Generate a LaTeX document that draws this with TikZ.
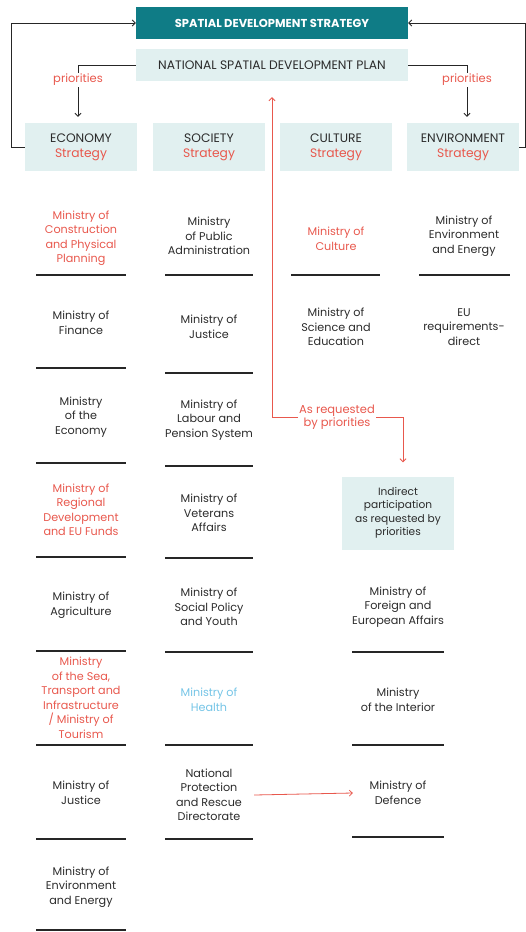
\documentclass[tikz,border=0pt]{standalone}
\usepackage{fontspec}
\setmainfont{Poppins}
\usetikzlibrary{arrows.meta, positioning}
\definecolor{sdteal}{HTML}{0F7C86}
\definecolor{sdlight}{HTML}{E1F0F0}
\definecolor{sdred}{HTML}{E8584D}
\definecolor{sdblue}{HTML}{74C4E6}
\definecolor{sdtext}{HTML}{2B2B2B}
\tikzset{
  mini/.style={align=center, inner sep=0pt, minimum width=90pt, text=sdtext, font=\fontsize{11.2}{14.5}\selectfont},
  strat/.style={fill=sdlight, minimum width=112pt, minimum height=48pt, align=center, text=sdtext, font=\fontsize{12.3}{15}\selectfont},
  lbl/.style={text=sdred, inner sep=1pt, align=center, font=\fontsize{11.5}{13}\selectfont},
  sep/.style={line width=1.1pt, black!85},
  barb/.style={-{Straight Barb[length=3pt,width=6pt]}, line width=0.8pt, black!85},
  redarr/.style={-{Straight Barb[length=3pt,width=6pt]}, line width=0.8pt, sdred},
}
\begin{document}
\begin{tikzpicture}[x=1pt, y=-1pt]
\useasboundingbox (0,0) rectangle (526,932);
% top boxes
\node[fill=sdteal, text=white, minimum width=272pt, minimum height=32pt, font=\bfseries\fontsize{11.5}{12}\selectfont] (sds) at (272,23) {SPATIAL DEVELOPMENT STRATEGY};
\node[fill=sdlight, text=sdtext, minimum width=272pt, minimum height=32pt, font=\fontsize{12.3}{13}\selectfont] (nsdp) at (272,65) {NATIONAL SPATIAL DEVELOPMENT PLAN};
% strategies
\node[strat] (eco) at (81,147) {ECONOMY\\\textcolor{sdred}{Strategy}};
\node[strat] (soc) at (209,147) {SOCIETY\\\textcolor{sdred}{Strategy}};
\node[strat] (cul) at (336,147) {CULTURE\\\textcolor{sdred}{Strategy}};
\node[strat] (env) at (463,147) {ENVIRONMENT\\\textcolor{sdred}{Strategy}};
\draw[barb] (eco.west) -- ++(-13,0) |- (sds.west);
\draw[barb] (env.east) -- ++(6,0) |- (sds.east);
\node[lbl] (prl) at (78,80) {priorities};
\node[lbl] (prr) at (467,80) {priorities};
\draw[line width=0.8pt, black!85] (nsdp.west) -| (prl.north);
\draw[line width=0.8pt, black!85] (nsdp.east) -| (prr.north);
\draw[barb, shorten >=6pt] (prl.south) -- (prl.south |- eco.north);
\draw[barb, shorten >=6pt] (prr.south) -- (prr.south |- env.north);
% economy
\node[mini, text=sdred] (eco1) at (81,238) {Ministry of\\Construction\\and Physical\\Planning};
\node[mini] (eco2) at (81,323) {Ministry of\\Finance};
\node[mini] (eco3) at (81,417) {Ministry\\of the\\Economy};
\node[mini, text=sdred] (eco4) at (81,510) {Ministry of\\Regional\\Development\\and EU Funds};
\node[mini] (eco5) at (81,605) {Ministry of\\Agriculture};
\node[mini, text=sdred] (eco6) at (81,698) {Ministry\\of the Sea,\\Transport and\\Infrastructure\\/ Ministry of\\Tourism};
\node[mini] (eco7) at (81,793) {Ministry of\\Justice};
\node[mini] (eco8) at (81,887) {Ministry of\\Environment\\and Energy};
% society
\node[mini] (soc1) at (209,236) {Ministry\\of Public\\Administration};
\node[mini] (soc2) at (209,327) {Ministry of\\Justice};
\node[mini] (soc3) at (209,420) {Ministry of\\Labour and\\Pension System};
\node[mini] (soc4) at (209,513) {Ministry of\\Veterans\\Affairs};
\node[mini] (soc5) at (209,607) {Ministry of\\Social Policy\\and Youth};
\node[mini, text=sdblue] (soc6) at (209,700) {Ministry of\\Health};
\node[mini] (soc7) at (209,795) {National\\Protection\\and Rescue\\Directorate};
% culture, environment
\node[mini, text=sdred] (cul1) at (336,239) {Ministry of\\Culture};
\node[mini] (cul2) at (336,327) {Ministry of\\Science and\\Education};
\node[mini] (env1) at (464,236) {Ministry of\\Environment\\and Energy};
\node[mini] (env2) at (464,327) {EU\\requirements-\\direct};
% indirect participation
\node[lbl] (req) at (337,417) {As requested\\by priorities};
\node[fill=sdlight, text=sdtext, minimum width=112pt, minimum height=73pt, align=center, font=\fontsize{10.6}{13.5}\selectfont] (ind) at (398,513) {Indirect\\participation\\as requested by\\priorities};
\node[mini] (ind1) at (398,607) {Ministry of\\Foreign and\\European Affairs};
\node[mini] (ind2) at (398,700) {Ministry\\of the Interior};
\node[mini] (ind3) at (398,793) {Ministry of\\Defence};
\draw[redarr, shorten >=16pt] (req.west) -| (nsdp.south);
\draw[redarr, shorten >=14pt] (req.east) -| ([xshift=5pt]ind.north);
\draw[redarr] (soc7.east) -- (ind3.west);
% separators
\foreach \y in {275,368,463,557,651,745,839,930} \draw[sep] (36,\y) -- (126,\y);
\foreach \y in {275,373,466,558,652,745,839} \draw[sep] (165,\y) -- (253,\y);
\draw[sep] (291,275) -- (380,275);
\draw[sep] (419,275) -- (510,275);
\foreach \y in {652,745,837} \draw[sep] (352,\y) -- (444,\y);
\end{tikzpicture}
\end{document}
